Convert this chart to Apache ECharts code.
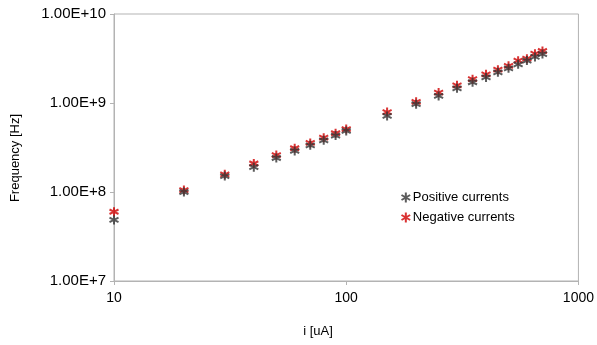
<!DOCTYPE html>
<html>
<head>
<meta charset="utf-8">
<script src="https://cdn.jsdelivr.net/npm/echarts@6/dist/echarts.min.js"></script>
<style>html,body{margin:0;padding:0;background:#fff}#c{width:597px;height:345px}</style>
</head>
<body>
<div id="c"></div>
<script>
const currents = [10, 20, 30, 40, 50, 60, 70, 80, 90, 100, 150, 200, 250, 300, 350, 400, 450, 500, 550, 600, 650, 700];
const positiveFreq = [4.85e7, 1.0e8, 1.51e8, 1.90e8, 2.41e8, 2.89e8, 3.35e8, 3.81e8, 4.3e8, 4.85e8, 7.15e8, 9.7e8, 1.2e9, 1.46e9, 1.71e9, 1.94e9, 2.21e9, 2.45e9, 2.72e9, 3.0e9, 3.29e9, 3.55e9];
const negativeFreq = [6.0e7, 1.05e8, 1.58e8, 2.09e8, 2.6e8, 3.1e8, 3.56e8, 4.08e8, 4.57e8, 5.1e8, 7.9e8, 1.03e9, 1.31e9, 1.58e9, 1.85e9, 2.1e9, 2.37e9, 2.62e9, 2.99e9, 3.15e9, 3.58e9, 3.84e9];
const seriesNames = ['Positive currents', 'Negative currents'];
const xTitle = 'i [uA]';
const yTitle = 'Frequency [Hz]';

const star = 'path://M0,-5L0,5M-4.33,-2.5L4.33,2.5M-4.33,2.5L4.33,-2.5';
const colors = ['#333333', '#d00000'];
function pairs(ys){ return currents.map((x,i)=>[x, ys[i]]); }
const font = 'Liberation Sans';
const chart = echarts.init(document.getElementById('c'), null, {renderer:'canvas'});
chart.setOption({
  animation: false,
  backgroundColor: '#fff',
  grid: {left: 114, right: 16, top: 14, bottom: 64, show: true, borderColor: '#b3b3b3', borderWidth: 1},
  xAxis: {
    type: 'log', logBase: 10, min: 10, max: 1000,
    axisLine: {show: true, lineStyle: {color: '#b3b3b3'}},
    axisTick: {show: true, length: 4, lineStyle: {color: '#b3b3b3'}},
    minorTick: {show: false},
    splitLine: {show: false},
    axisLabel: {color: '#000', fontFamily: font, fontSize: 14, margin: 10, formatter: v => String(Math.round(v))}
  },
  yAxis: {
    type: 'log', logBase: 10, min: 1e7, max: 1e10,
    axisLine: {show: true, lineStyle: {color: '#b3b3b3'}},
    axisTick: {show: true, length: 4, lineStyle: {color: '#b3b3b3'}},
    splitLine: {show: false},
    axisLabel: {color: '#000', fontFamily: font, fontSize: 15, margin: 8,
      formatter: v => Number(v).toExponential(2).toUpperCase()}
  },
  legend: {
    orient: 'vertical', left: 394, top: 185, itemGap: 5, itemWidth: 10, itemHeight: 10,
    textStyle: {color: '#000', fontFamily: font, fontSize: 13, padding: [0,0,0,-3]},
    data: seriesNames.map((n,i)=>({name: n, icon: star, itemStyle: {color: 'none', borderColor: colors[i], borderWidth: 2}}))
  },
  graphic: [
    {type: 'text', x: 318, y: 331, style: {text: xTitle, fill: '#000', font: '13px "Liberation Sans"', align: 'center', verticalAlign: 'middle'}},
    {type: 'text', x: 15, y: 158, rotation: Math.PI/2, style: {text: yTitle, fill: '#000', font: '13px "Liberation Sans"', align: 'center', verticalAlign: 'middle'}}
  ],
  series: [
    {name: seriesNames[0], type: 'scatter', data: pairs(positiveFreq), symbol: star, symbolSize: 9,
     itemStyle: {color: 'none', borderColor: colors[0], borderWidth: 2}, z: 3},
    {name: seriesNames[1], type: 'scatter', data: pairs(negativeFreq), symbol: star, symbolSize: 9,
     itemStyle: {color: 'none', borderColor: colors[1], borderWidth: 2}, z: 2}
  ]
});
</script>
</body>
</html>
